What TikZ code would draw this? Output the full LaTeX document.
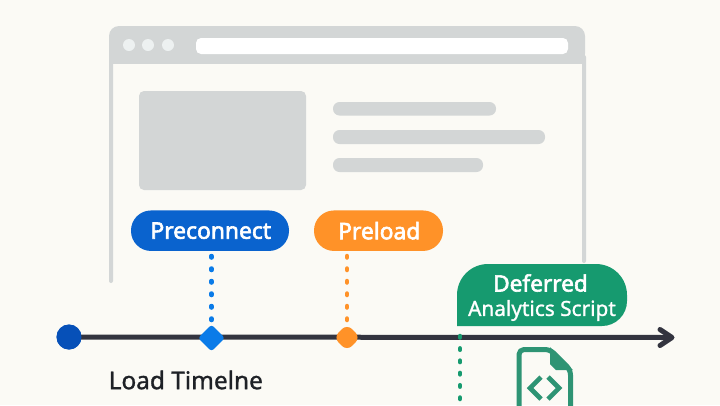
\documentclass[tikz,border=0pt]{standalone}
\usepackage{fontspec}
\setmainfont{Noto Sans}
\newfontfamily\medfont[RawFeature={embolden=2.6}]{Noto Sans}
\newfontfamily\midfont[RawFeature={embolden=1.2}]{Noto Sans}
\usetikzlibrary{arrows.meta,shapes.geometric}
\definecolor{paper}{HTML}{FBFAF5}
\definecolor{frame}{HTML}{D3D6D6}
\definecolor{dotc}{HTML}{EDF1F1}
\definecolor{bluepill}{HTML}{0A63CE}
\definecolor{bluedot}{HTML}{0A7BE8}
\definecolor{bluestart}{HTML}{0650B8}
\definecolor{orangec}{HTML}{FF9228}
\definecolor{greenc}{HTML}{169A6F}
\definecolor{iconc}{HTML}{2E9474}
\definecolor{axisc}{HTML}{33343F}
\definecolor{inkc}{HTML}{1E2126}
\tikzset{
 x=1pt,y=-1pt,
 ghost/.style={fill=frame,draw=none},
 bar/.style={fill=frame,draw=none,rounded corners=6.5pt},
 winbtn/.style={circle,fill=dotc,draw=none,minimum size=12pt,inner sep=0pt},
 pill/.style={rounded corners=20pt,minimum height=40.5pt,inner sep=0pt,text=white,font=\medfont\fontsize{22.8}{26}\selectfont,draw=none},
 dotline/.style={line width=4.5pt,line cap=round,dash pattern=on 1.5pt off 11pt},
}
\begin{document}
\begin{tikzpicture}
\useasboundingbox (0,0) rectangle (720,405);
\fill[paper] (0,0) rectangle (720,405);
% browser window
\fill[ghost,rounded corners=10pt] (109,26) rectangle (585,63.5);
\fill[ghost] (109,50) rectangle (585,63.5);
\fill[ghost,rounded corners=2pt] (109,55) rectangle (113,283);
\fill[ghost,rounded corners=2pt] (582,55) rectangle (586,263);
\node[winbtn] (b1) at (129,45) {};
\node[winbtn] (b2) at (148,45) {};
\node[winbtn] (b3) at (168,45) {};
\fill[white,rounded corners=5pt] (196,38) rectangle (568,54);
\fill[ghost,rounded corners=5pt] (139,91) rectangle (306,190);
\fill[bar] (333,102) rectangle (496,115.5);
\fill[bar] (333,130) rectangle (545,144);
\fill[bar] (333,158) rectangle (483,172);
% axis
\coordinate (axisend) at (672,337.5);
\node[circle,fill=bluestart,minimum size=25pt,inner sep=0pt] (start) at (69,337) {};
\draw[axisc,line width=5pt,line cap=round] (start.center) -- (670,337.5);
\draw[axisc,line width=5pt,line cap=round,line join=round] (660,329.5) -- (axisend) -- (660,345.5);
\node[circle,fill=bluestart,minimum size=25pt,inner sep=0pt] at (69,337) {};
\node[diamond,fill=bluedot,minimum size=27pt,inner sep=0pt,rounded corners=3pt] (m1) at (211.5,338) {};
\node[diamond,fill=orangec,minimum size=27pt,inner sep=0pt,rounded corners=7pt] (m2) at (347,337.5) {};
% pills
\node[pill,fill=bluepill,minimum width=158pt] (pre) at (210,230.7) {\hspace{1.5pt}Preconnect};
\node[pill,fill=orangec,minimum width=129pt] (load) at (378.5,230.7) {\hspace{1.5pt}Preload};
\draw[bluedot,dotline] (211.5,256) -- (m1.north);
\draw[orangec,dotline] (347,256) -- (m2.north);
% deferred
\fill[greenc] (457,326) -- (457,295) arc[start angle=180,end angle=90,radius=31pt] -- (596,264) arc[start angle=90,end angle=0,radius=31pt] -- (627,301) arc[start angle=0,end angle=-90,radius=25pt] -- cycle;
\node[text=white,font=\medfont\fontsize{22.6}{26}\selectfont,inner sep=0pt] (d1) at (540.5,283) {Deferred};
\node[text=white,font=\midfont\fontsize{20.8}{26}\selectfont,inner sep=0pt] (d2) at (542,310.5) {Analytics Script};
\coordinate (gtop) at (460,336);
\coordinate (gbot) at (460,405);
\draw[greenc,dotline,dash pattern=on 1.5pt off 10.8pt] (gtop) -- (gbot);
% file icon
\fill[iconc] (550,347) -- (573,370) -- (556,370) -- (550,364) -- cycle;
\draw[iconc,line width=5pt,line join=round,rounded corners=5pt] (519,412) -- (519,349.5) -- (550,349.5) -- (570.5,370) -- (570.5,412);
\draw[iconc,line width=4.6pt,line cap=butt,line join=miter] (541,377) -- (530,388) -- (541,399);
\draw[iconc,line width=4.6pt,line cap=butt,line join=miter] (548,377) -- (559,388) -- (548,399);
% label
\node[text=inkc,anchor=west,inner sep=0pt,font=\midfont\fontsize{24.4}{26}\selectfont] (tl) at (108.5,380) {Load Timelne};
\end{tikzpicture}
\end{document}
